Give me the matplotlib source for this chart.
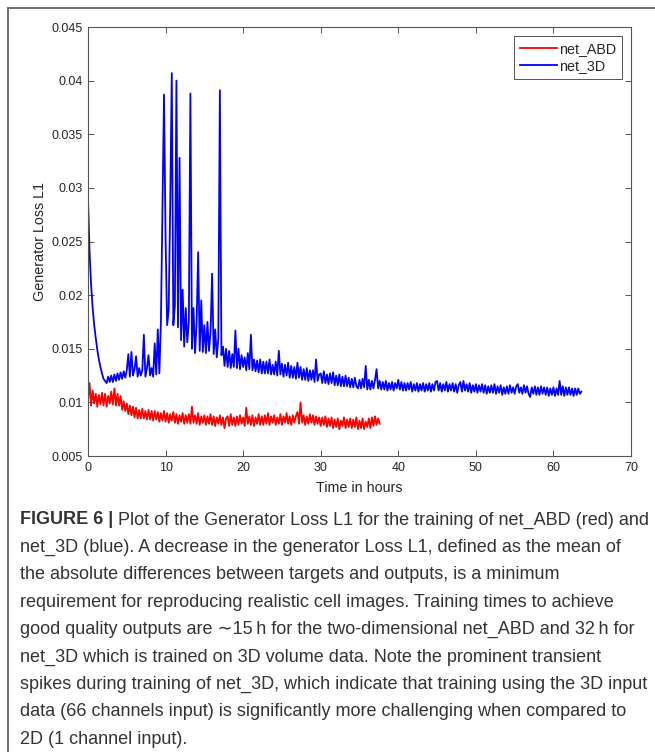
#!/usr/bin/env python3
"""Generator loss L1 for net_ABD and net_3D, with the figure caption below."""

import matplotlib as mpl

mpl.use("Agg")

import matplotlib.pyplot as plt
import numpy as np

# ---- data (loss values in units of 1e-3, one sample every 0.2 h) ----
sample_step_h = 0.2

loss_3d_milli = [
    29.0, 24.0, 21.0, 18.8, 17.2, 16.0, 14.9, 14.0, 13.3, 12.7,
    12.2, 12.0, 11.8, 12.4, 11.9, 12.5, 11.9, 12.6, 12.0, 12.7,
    12.1, 12.8, 12.2, 12.9, 12.3, 13.0, 14.5, 12.4, 14.7, 12.5,
    13.1, 14.3, 12.4, 13.2, 12.5, 13.0, 16.3, 12.4, 13.2, 14.4,
    12.5, 13.2, 12.4, 15.5, 12.6, 16.8, 12.7, 17.5, 28.0, 38.7,
    25.4, 17.2, 18.6, 28.5, 40.7, 17.2, 19.0, 40.0, 17.0, 32.8,
    15.8, 20.5, 15.2, 18.8, 15.6, 17.5, 38.8, 15.0, 18.8, 14.6,
    17.4, 24.0, 14.8, 19.5, 14.7, 17.2, 14.6, 17.5, 14.8, 16.6,
    22.0, 14.5, 16.8, 14.2, 16.0, 39.1, 14.4, 15.2, 13.4, 15.0,
    13.3, 14.8, 13.2, 14.5, 13.3, 16.7, 13.2, 15.0, 13.1, 14.4,
    13.3, 14.2, 13.0, 14.6, 13.1, 16.3, 13.0, 14.0, 12.9, 13.9,
    12.8, 14.0, 12.7, 13.8, 12.7, 13.8, 12.7, 14.0, 12.6, 13.5,
    12.6, 13.8, 12.5, 14.8, 12.6, 13.6, 12.4, 13.5, 12.5, 13.7,
    12.3, 13.4, 12.3, 13.3, 12.2, 13.7, 12.3, 13.3, 12.1, 13.1,
    12.1, 13.2, 12.0, 13.0, 12.1, 13.0, 11.9, 14.0, 12.0, 12.6,
    12.7, 11.8, 12.9, 11.8, 12.6, 11.7, 12.7, 11.8, 12.8, 11.6,
    12.5, 11.6, 12.6, 11.5, 12.4, 11.5, 12.5, 11.5, 12.3, 11.4,
    12.2, 11.4, 12.3, 11.5, 11.3, 12.1, 11.3, 12.2, 11.4, 13.4,
    11.2, 12.1, 11.2, 12.0, 11.3, 12.1, 13.1, 11.3, 12.0, 11.2,
    11.9, 11.2, 12.0, 11.1, 11.8, 11.2, 11.9, 11.1, 11.8, 11.3,
    12.1, 11.2, 11.9, 11.1, 11.8, 11.1, 11.8, 11.2, 11.9, 11.0,
    11.7, 11.1, 11.8, 11.0, 11.7, 11.1, 11.8, 11.0, 11.7, 11.1,
    11.8, 11.0, 11.7, 11.1, 11.9, 12.0, 11.1, 11.8, 11.0, 11.7,
    11.1, 11.9, 11.0, 11.7, 11.1, 11.8, 11.0, 11.7, 10.9, 11.6,
    11.9, 11.0, 12.0, 11.1, 11.7, 11.0, 11.8, 10.9, 11.6, 11.0,
    11.7, 10.9, 11.6, 11.0, 11.7, 10.9, 11.6, 10.8, 11.5, 10.9,
    11.6, 10.9, 11.7, 10.8, 11.5, 10.9, 11.6, 10.7, 11.4, 10.8,
    11.5, 10.8, 11.6, 10.9, 11.4, 10.8, 11.5, 11.7, 10.9, 11.4,
    10.8, 11.6, 10.9, 11.5, 10.8, 10.5, 11.4, 10.8, 11.5, 10.7,
    11.4, 10.7, 11.5, 10.8, 11.4, 10.7, 11.4, 10.6, 11.3, 10.7,
    11.4, 10.6, 11.3, 10.7, 12.0, 10.7, 11.5, 10.6, 11.4, 10.7,
    11.4, 10.7, 11.3, 10.6, 11.3, 10.7, 11.3, 10.8, 11.0,
]

loss_abd_milli = [
    10.2, 11.8, 9.7, 11.1, 9.9, 10.8, 9.6, 10.7, 9.8, 10.9,
    9.7, 10.8, 9.6, 10.6, 9.9, 11.0, 9.8, 11.3, 9.7, 10.8,
    9.7, 10.6, 9.3, 10.1, 9.2, 9.9, 8.9, 9.7, 8.8, 9.6,
    8.6, 9.5, 8.5, 9.3, 8.5, 9.4, 8.5, 9.2, 8.4, 9.3,
    8.4, 9.2, 8.3, 9.2, 8.4, 9.1, 8.2, 9.0, 8.3, 9.2,
    8.2, 9.0, 8.1, 8.9, 8.3, 9.1, 8.1, 8.9, 8.0, 8.8,
    8.2, 9.0, 8.0, 8.8, 8.1, 8.9, 8.0, 9.6, 8.1, 8.8,
    8.0, 9.0, 7.9, 8.7, 8.1, 8.8, 7.9, 8.7, 8.0, 8.9,
    7.9, 8.7, 7.8, 8.6, 8.0, 8.8, 7.9, 8.6, 7.6, 8.5,
    8.7, 7.8, 8.9, 7.9, 8.6, 7.8, 8.7, 7.9, 8.8, 8.0,
    8.6, 7.8, 9.5, 8.0, 8.7, 7.9, 8.8, 7.8, 8.6, 8.0,
    8.9, 7.9, 8.7, 7.9, 8.8, 8.0, 9.0, 7.9, 8.7, 8.1,
    8.8, 7.9, 8.6, 8.0, 8.9, 7.9, 8.7, 8.1, 9.0, 8.0,
    8.7, 7.9, 8.8, 8.1, 8.7, 9.1, 8.0, 10.0, 8.1, 8.8,
    7.9, 8.7, 8.0, 8.9, 8.1, 8.8, 7.9, 8.7, 8.0, 8.6,
    7.8, 8.6, 7.9, 8.7, 7.7, 8.5, 7.8, 8.6, 7.6, 8.4,
    7.7, 8.5, 7.5, 8.3, 7.8, 8.6, 7.6, 8.4, 7.7, 8.5,
    7.6, 8.4, 7.7, 8.6, 7.5, 8.3, 7.6, 8.5, 7.5, 8.2,
    7.7, 8.5, 7.6, 8.6, 7.8, 8.7, 7.9, 8.5, 8.0,
]

series_names = ["net_ABD", "net_3D"]
series_colors = ["#ff0000", "#0000ff"]

x_ticks = [0, 10, 20, 30, 40, 50, 60, 70]
y_ticks = [0.005, 0.01, 0.015, 0.02, 0.025, 0.03, 0.035, 0.04, 0.045]
y_tick_labels = ["0.005", "0.01", "0.015", "0.02", "0.025", "0.03", "0.035", "0.04", "0.045"]

caption_head = "FIGURE 6 |"
caption_lines = [
    " Plot of the Generator Loss L1 for the training of net_ABD (red) and",
    "net_3D (blue). A decrease in the generator Loss L1, defined as the mean of",
    "the absolute differences between targets and outputs, is a minimum",
    "requirement for reproducing realistic cell images. Training times to achieve",
    "good quality outputs are \u223c15\u2009h for the two-dimensional net_ABD and 32\u2009h for",
    "net_3D which is trained on 3D volume data. Note the prominent transient",
    "spikes during training of net_3D, which indicate that training using the 3D input",
    "data (66 channels input) is significantly more challenging when compared to",
    "2D (1 channel input).",
]

W, H = 655, 752
plt.rcParams["font.family"] = ["Liberation Sans", "DejaVu Sans"]

fig = plt.figure(figsize=(W / 100, H / 100), dpi=100)
fig.patch.set_facecolor("white")

# outer frame (top and left rules only)
frame_col = "#6e6e6e"
fig.add_artist(plt.Line2D([8 / W, 1.0], [1 - 8 / H, 1 - 8 / H], color=frame_col, lw=1.4))
fig.add_artist(plt.Line2D([8 / W, 8 / W], [0.0, 1 - 8 / H], color=frame_col, lw=1.4))

ax = fig.add_axes([88 / W, 1 - 456 / H, 543 / W, 429 / H])

t_abd = np.arange(len(loss_abd_milli)) * sample_step_h
t_3d = np.arange(len(loss_3d_milli)) * sample_step_h
ax.plot(t_abd, np.array(loss_abd_milli) * 1e-3, color=series_colors[0], lw=1.3, label=series_names[0])
ax.plot(t_3d, np.array(loss_3d_milli) * 1e-3, color=series_colors[1], lw=1.3, label=series_names[1])

ax.set_xlim(0, 70)
ax.set_ylim(0.005, 0.045)
ax.set_xticks(x_ticks)
ax.set_yticks(y_ticks, y_tick_labels)
ax.tick_params(direction="in", top=True, right=True, length=4, width=0.7,
               labelsize=9, colors="#555555", labelcolor="#262626", pad=4)
for s in ax.spines.values():
    s.set_color("#555555")
    s.set_linewidth(0.8)
ax.set_xlabel("Time in hours", fontsize=10.3, color="#262626", labelpad=5)
ax.set_ylabel("Generator Loss L1", fontsize=10.3, color="#262626", labelpad=2.8)

leg = ax.legend(loc="upper right", fontsize=10.3, frameon=True, fancybox=False,
                edgecolor="#555555", framealpha=1, borderaxespad=0.65,
                handlelength=2.6, handletextpad=0.15, labelspacing=0.2,
                borderpad=0.4)
leg.get_frame().set_linewidth(0.7)
for txt in leg.get_texts():
    txt.set_color("#262626")

# caption, fitted to the width of the reference text block
cap_left = 20 / W
cap_width_px = 626
cap_top_y = 520
cap_step = 27.4
cap_size = 11.0
renderer = fig.canvas.get_renderer()
probe = fig.text(0, 0, caption_lines[6], fontsize=cap_size)
probe_w = probe.get_window_extent(renderer).width
probe.remove()
cap_size = cap_size * cap_width_px / probe_w

cap_col = "#333333"
for i, line in enumerate(caption_lines):
    y = 1 - (cap_top_y + i * cap_step) / H
    if i == 0:
        head = fig.text(cap_left, y, caption_head, fontsize=cap_size, fontweight="bold",
                        color=cap_col, va="center")
        fig.canvas.draw()
        x_after = head.get_window_extent(renderer).x1 / W
        fig.text(x_after, y, line, fontsize=cap_size, color=cap_col, va="center")
    else:
        fig.text(cap_left, y, line, fontsize=cap_size, color=cap_col, va="center")

fig.savefig("out.png", dpi=100)
